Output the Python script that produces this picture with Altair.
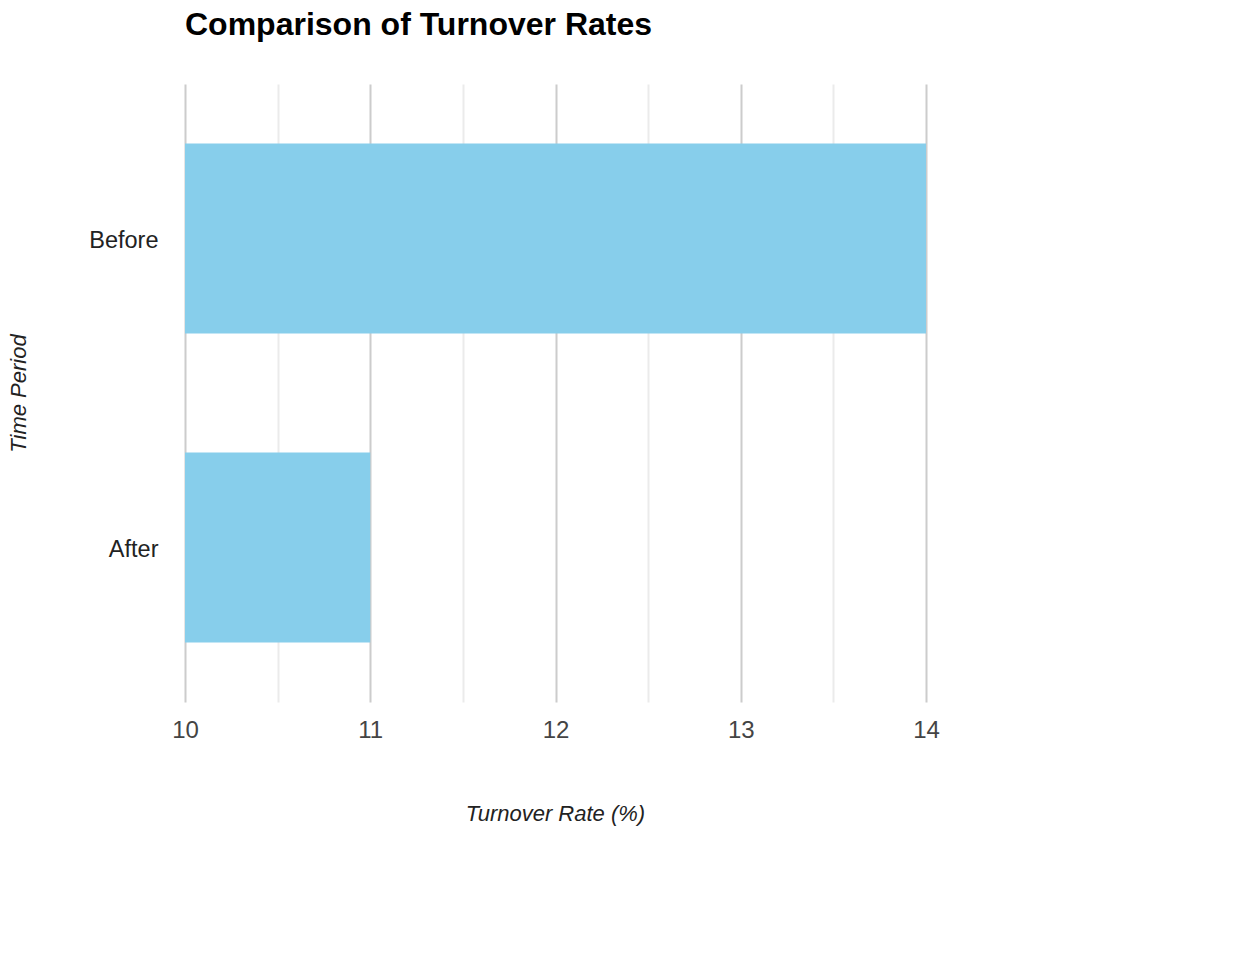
import altair as alt
import pandas as pd

periods = ["Before", "After"]
rates = [14, 11]
x_ticks = [10, 10.5, 11, 11.5, 12, 12.5, 13, 13.5, 14]
x_domain = [10, 14]

df = pd.DataFrame({"Time Period": periods, "Turnover Rate (%)": rates})

FONT = "Liberation Sans"

chart = alt.Chart(df).mark_bar(color="#87CEEB", clip=True).encode(
    x=alt.X(
        "Turnover Rate (%):Q",
        scale=alt.Scale(domain=x_domain, zero=False, nice=False),
        axis=alt.Axis(
            values=x_ticks,
            labelExpr="datum.value % 1 === 0 ? format(datum.value, 'd') : ''",
            ticks=False,
            domain=False,
            grid=True,
            gridColor={"condition": {"test": "datum.value % 1 === 0", "value": "#cccccc"}, "value": "#ebebeb"},
            gridWidth=2,
            labelFont=FONT,
            labelFontSize=24,
            labelColor="#444444",
            labelBaseline="alphabetic",
            labelPadding=35,
            labelFlush=False,
            title="Turnover Rate (%)",
            titleFont=FONT,
            titleFontSize=22,
            titleFontStyle="italic",
            titleFontWeight="normal",
            titleColor="#222222",
            titleBaseline="alphabetic",
            titleX=370,
            titleY=118,
            titleAlign="center",
        ),
    ),
    y=alt.Y(
        "Time Period:N",
        sort=periods,
        scale=alt.Scale(paddingInner=0.385, paddingOuter=0.1925),
        axis=alt.Axis(
            ticks=False,
            domain=False,
            grid=False,
            labelFont=FONT,
            labelFontSize=23.5,
            labelColor="#222222",
            labelPadding=27,
            labelOffset=2,
            title="Time Period",
            titleFont=FONT,
            titleFontSize=22,
            titleFontStyle="italic",
            titleFontWeight="normal",
            titleColor="#222222",
            titleBaseline="alphabetic",
            titleAngle=270,
            titleAlign="center",
            titleX=-160,
            titleY=309,
        ),
    ),
).properties(
    width=741,
    height=618,
    title=alt.TitleParams(
        "Comparison of Turnover Rates",
        anchor="start",
        frame="group",
        font=FONT,
        fontSize=32,
        fontWeight="bold",
        color="#000000",
        offset=42,
    ),
    autosize=alt.AutoSizeParams(type="none"),
    padding={"left": 177, "top": 76, "right": 300, "bottom": 150},
).configure(background="white").configure_view(stroke=None, strokeWidth=0)

chart.save("out.html", embed_options={"renderer": "svg", "actions": False})
